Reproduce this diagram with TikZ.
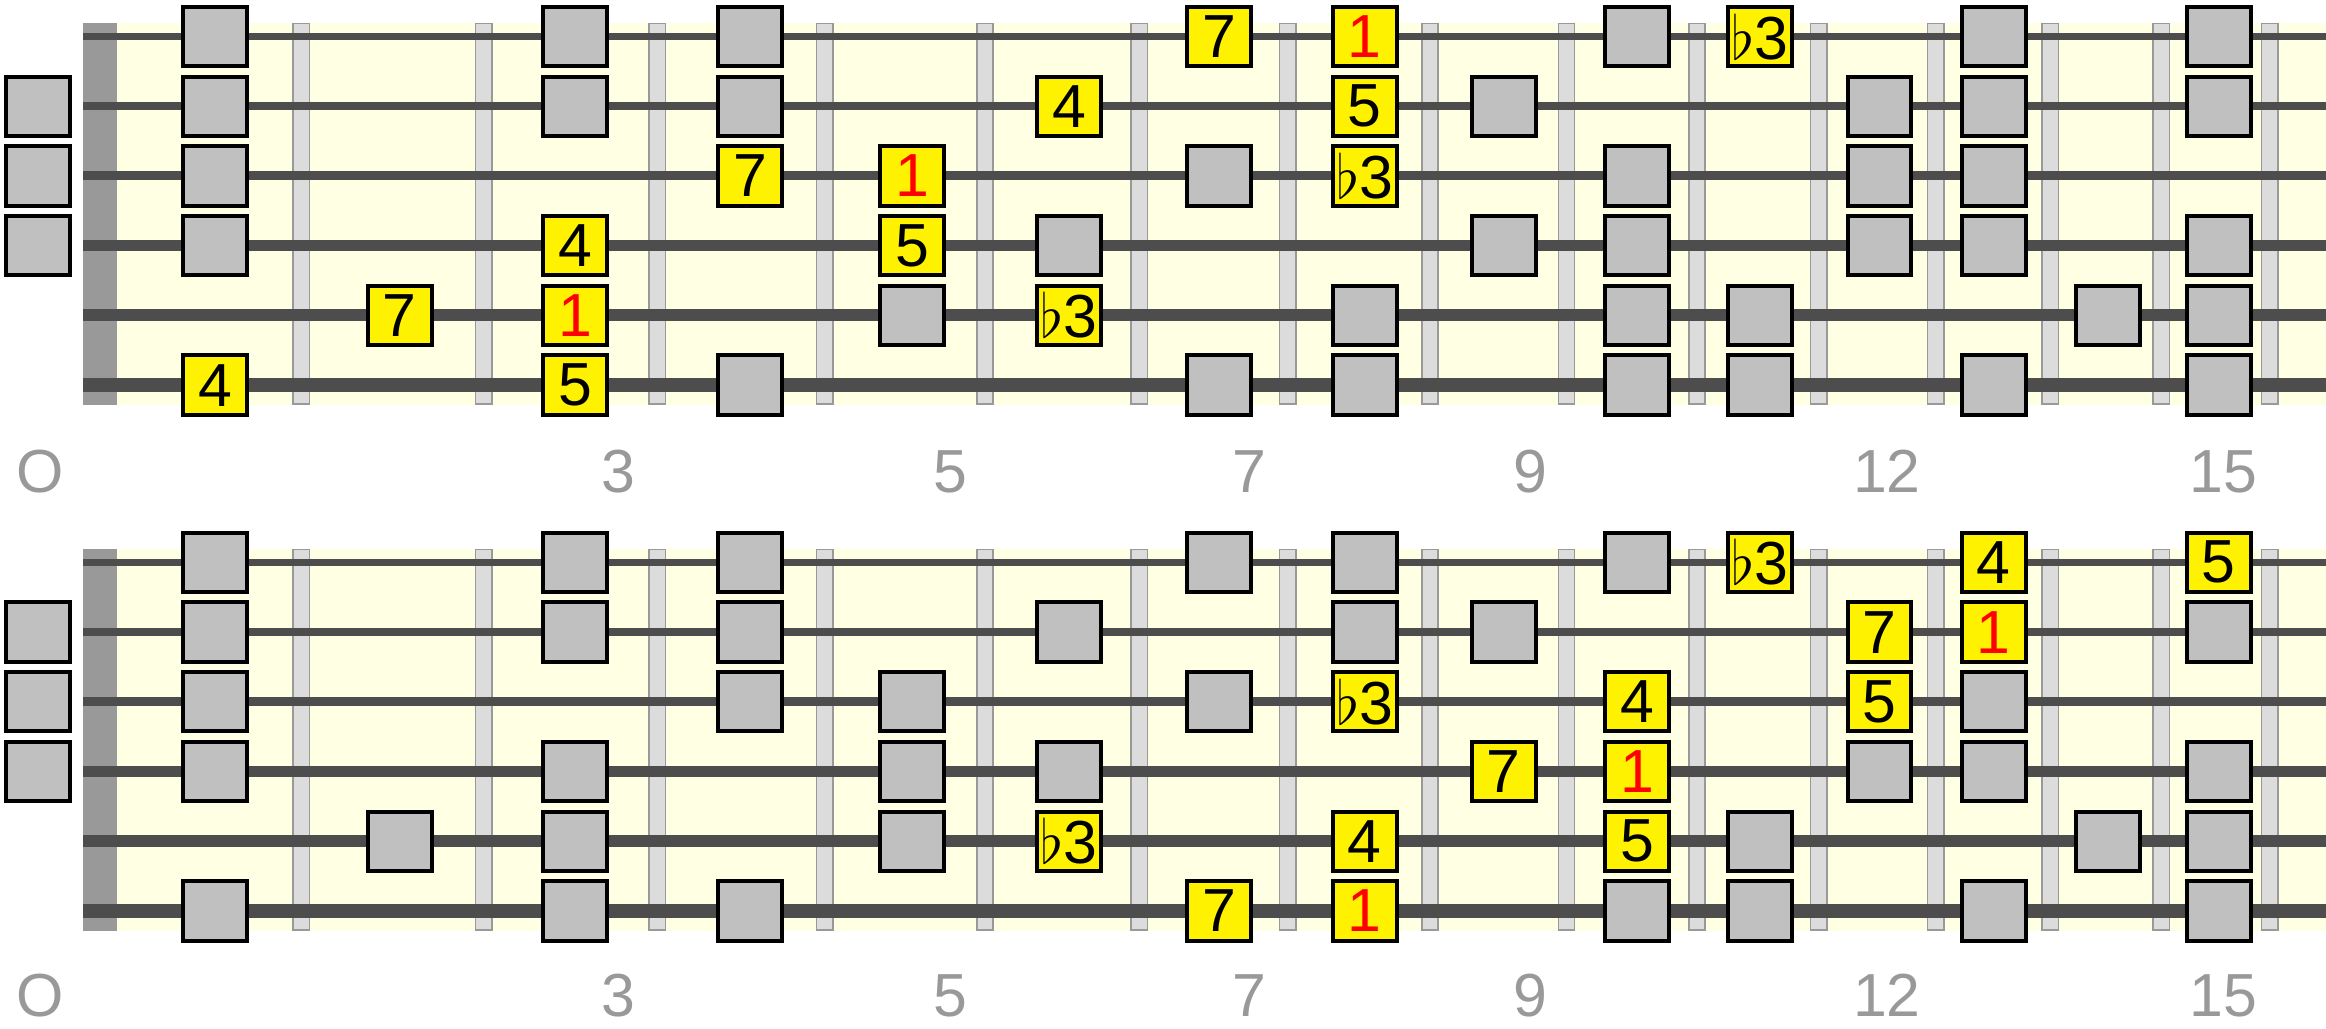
\documentclass[tikz,border=0pt]{standalone}
\usepackage{fix-cm}
\usepackage{fontspec}
\setmainfont{Liberation Sans}
\definecolor{manico}{RGB}{255,255,227}
\definecolor{capotasto}{RGB}{153,153,153}
\definecolor{tasto}{RGB}{220,220,220}
\definecolor{corda}{RGB}{77,77,77}
\definecolor{giallo}{RGB}{255,242,0}
\definecolor{grigio}{RGB}{192,192,192}
\tikzset{
  nota/.style={draw=black, line width=2.7pt, minimum width=43pt, minimum height=40pt,
    inner sep=0pt, font=\fontsize{41}{41}\selectfont},
  vuota/.style={nota, fill=grigio},
  grado/.style={nota, fill=giallo},
  radice/.style={grado, text=red},
  numero/.style={text=capotasto, inner sep=0pt, font=\fontsize{41}{41}\selectfont}
}
\begin{document}
\begin{tikzpicture}[x=1pt,y=-1pt]
    \useasboundingbox (0,0) rectangle (1568,693);
    % Colonne
    \foreach \n/\x in {0/25.5,1/145,2/269.5,3/387.6,4/505.7,5/614.8,6/720.6,7/822,
        8/920,9/1013.8,10/1103.5,11/1186.6,12/1267,13/1344,14/1421,15/1495.7}
        \coordinate (t\n) at (\x,0);
    % Tastiere
    \foreach \m/\dy in {a/0,b/354.5} {
        \fill[manico] (79,15.5+\dy) rectangle (1568,273+\dy);
        \fill[capotasto] (56,15.5+\dy) rectangle (79,273+\dy);
        \foreach \x in {203,326,443,556,664,768,868,964,1056,1144,1226,1305,1382,1457,1530}
            \filldraw[fill=tasto, draw=capotasto, line width=1pt] (\x-5.5,16+\dy) rectangle (\x+5.5,272.5+\dy);
        \foreach \s/\w in {1/4.5,2/5.2,3/6,4/7,5/8,6/9.2} {
            \coordinate (\m\s) at (56,{24.6+47*(\s-1)+\dy});
            \draw[corda, line width=\w pt] (\m\s) -- (1568,{24.6+47*(\s-1)+\dy});
        }
    }
    % Note - sopra
    \foreach \s/\f in {1/1,1/3,1/4,1/10,1/13,1/15, 2/0,2/1,2/3,2/4,2/9,2/12,2/13,2/15,
        3/0,3/1,3/7,3/10,3/12,3/13, 4/0,4/1,4/6,4/9,4/10,4/12,4/13,4/15,
        5/5,5/8,5/10,5/11,5/14,5/15, 6/4,6/7,6/8,6/10,6/11,6/13,6/15}
        \node[vuota] (a\s-\f) at (t\f |- a\s) {};
    \foreach \s/\f/\g in {1/7/7,1/11/\(\flat\)3,2/6/4,2/8/5,3/4/7,3/8/\(\flat\)3,
        4/3/4,4/5/5,5/2/7,5/6/\(\flat\)3,6/1/4,6/3/5}
        \node[grado] (a\s-\f) at (t\f |- a\s) {\g};
    \foreach \s/\f in {1/8,3/5,5/3}
        \node[radice] (a\s-\f) at (t\f |- a\s) {1};
    % Note - sotto
    \foreach \s/\f in {1/1,1/3,1/4,1/7,1/8,1/10, 2/0,2/1,2/3,2/4,2/6,2/8,2/9,2/15,
        3/0,3/1,3/4,3/5,3/7,3/13, 4/0,4/1,4/3,4/5,4/6,4/12,4/13,4/15,
        5/2,5/3,5/5,5/11,5/14,5/15, 6/1,6/3,6/4,6/10,6/11,6/13,6/15}
        \node[vuota] (b\s-\f) at (t\f |- b\s) {};
    \foreach \s/\f/\g in {1/11/\(\flat\)3,1/13/4,1/15/5,2/12/7,3/8/\(\flat\)3,3/10/4,3/12/5,
        4/9/7,5/6/\(\flat\)3,5/8/4,5/10/5,6/7/7}
        \node[grado] (b\s-\f) at (t\f |- b\s) {\g};
    \foreach \s/\f in {2/13,4/10,6/8}
        \node[radice] (b\s-\f) at (t\f |- b\s) {1};
    % Numeri
    \foreach \m/\y in {a/318,b/671}
        \foreach \n/\x in {O/27,3/417,5/641,7/842,9/1032,12/1272,15/1499}
            \node[numero] (\m-n\n) at (\x,\y) {\n};
\end{tikzpicture}
\end{document}
